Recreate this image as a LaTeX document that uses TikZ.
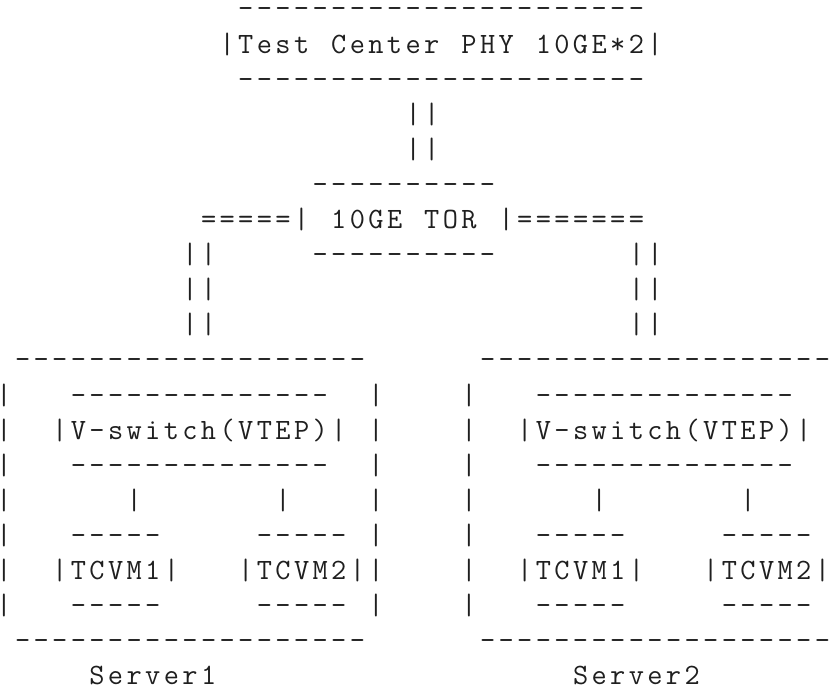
\documentclass[tikz,border=0pt]{standalone}
\makeatletter
% set the characters of #1 on a fixed 18.6pt grid, each centred on its
% grid point; ~ leaves a grid point empty
\newcommand\cells[1]{\let\cell@sep\relax
  \@tfor\cell@ch:=#1\do{\cell@sep\makebox[0pt][c]{\cell@ch}\def\cell@sep{\hspace{18.6pt}}}}
\makeatother
\tikzset{
  ascii/.style={anchor=base west, inner sep=0pt, outer sep=0pt, text=black!88,
    font=\fontsize{29.5pt}{35pt}\selectfont\ttfamily},
}
% \asc{name}{column}{row}{characters}
\newcommand\asc[4]{\node[ascii] (#1) at ({4+18.6*#2},{17.9+35.1*#3}) {\cells{#4}};}

\begin{document}
\begin{tikzpicture}[x=1pt,y=-1pt]
\fill[white] (0,0) rectangle (840,691);
\useasboundingbox (0,0) rectangle (840,691);

% test center
\asc{tctop}{13}{0}{----------------------}
\asc{tcmid}{12}{1}{|Test~Center~PHY~10GE*2|}
\asc{tcbot}{13}{2}{----------------------}
% uplink to the TOR switch
\asc{up1}{22}{3}{||}
\asc{up2}{22}{4}{||}
% TOR switch
\asc{tortop}{17}{5}{----------}
\asc{tormid}{11}{6}{=====|~10GE~TOR~|=======}
\asc{torbot}{17}{7}{----------}
% downlinks
\asc{dl1}{10}{7}{||}
\asc{dl2}{10}{8}{||}
\asc{dl3}{10}{9}{||}
\asc{dr1}{34}{7}{||}
\asc{dr2}{34}{8}{||}
\asc{dr3}{34}{9}{||}

% Server1
\asc{sa10}{1}{10}{-------------------}
\asc{sa11}{0}{11}{|~~~--------------~~|}
\asc{sa12}{0}{12}{|~~|V-switch(VTEP)|~|}
\asc{sa13}{0}{13}{|~~~--------------~~|}
\asc{sa14}{0}{14}{|~~~~~~|~~~~~~~|~~~~|}
\asc{sa15}{0}{15}{|~~~-----~~~~~-----~|}
\asc{sa16}{0}{16}{|~~|TCVM1|~~~|TCVM2||}
\asc{sa17}{0}{17}{|~~~-----~~~~~-----~|}
\asc{sa18}{1}{18}{-------------------}
\asc{sa19}{5}{19}{Server1}

% Server2
\asc{sb10}{26}{10}{-------------------}
\asc{sb11}{25}{11}{|~~~--------------}
\asc{sb12}{25}{12}{|~~|V-switch(VTEP)|}
\asc{sb13}{25}{13}{|~~~--------------}
\asc{sb14}{25}{14}{|~~~~~~|~~~~~~~|}
\asc{sb15}{25}{15}{|~~~-----~~~~~-----}
\asc{sb16}{25}{16}{|~~|TCVM1|~~~|TCVM2|}
\asc{sb17}{25}{17}{|~~~-----~~~~~-----}
\asc{sb18}{26}{18}{-------------------}
\asc{sb19}{31}{19}{Server2}
\end{tikzpicture}
\end{document}
